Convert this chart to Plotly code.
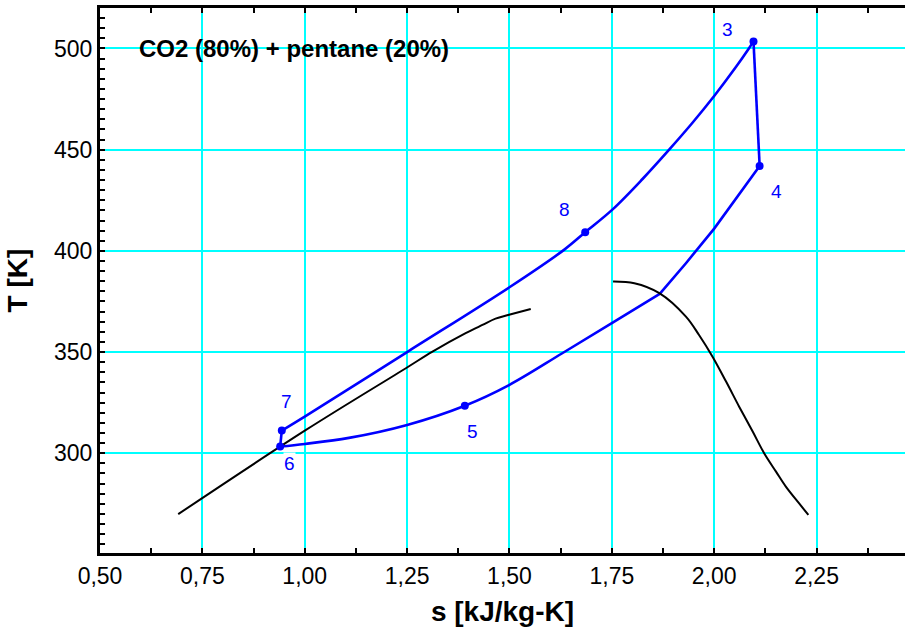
import plotly.graph_objects as go

# --- T-s diagram of a CO2/pentane cycle ---
# heating branch 7 -> 8 -> 3
heat_s = [0.944, 1.000, 1.250, 1.500, 1.634, 1.685, 1.752, 1.825, 1.890, 1.947, 2.000, 2.053, 2.083, 2.096]
heat_T = [311.2, 318.1, 350.0, 382.0, 400.6, 409.2, 420.5, 435.5, 450.0, 463.3, 476.5, 490.8, 499.5, 503.5]

# expansion 3 -> 4
exp_s = [2.096, 2.111]
exp_T = [503.5, 441.9]

# cooling 4 -> dew point
cool_hi_s = [2.111, 2.000, 1.931, 1.867]
cool_hi_T = [441.9, 411.0, 393.9, 378.7]

# condensation dew point -> 5 -> 6
cool_lo_s = [1.867, 1.752, 1.629, 1.499, 1.391, 1.250, 1.108, 1.000, 0.940]
cool_lo_T = [378.7, 364.5, 349.4, 333.7, 323.5, 314.0, 307.6, 304.6, 303.3]

# pump 6 -> 7
pump_s = [0.940, 0.944]
pump_T = [303.3, 311.2]

# saturation boundaries of the mixture
bubble_s = [0.691, 1.003, 1.247, 1.312, 1.393, 1.434, 1.466, 1.499, 1.552]
bubble_T = [269.9, 311.5, 342.0, 350.2, 359.3, 363.4, 366.5, 368.4, 371.3]
dew_s = [1.753, 1.805, 1.866, 1.931, 1.963, 1.996, 2.029, 2.061, 2.094, 2.122, 2.151, 2.175, 2.207, 2.230]
dew_T = [384.8, 384.0, 379.1, 367.5, 358.4, 347.7, 335.4, 323.0, 310.7, 300.0, 290.9, 283.5, 275.3, 269.5]

# labelled state points
state_names = ["3", "4", "5", "6", "7", "8"]
state_s = [2.096, 2.111, 1.391, 0.940, 0.944, 1.685]
state_T = [503.5, 441.9, 323.5, 303.3, 311.2, 409.2]
label_dx = [-26, 17, 8, 9, 5, -21]
label_dy = [12, -25, -26, -17, 29, 23]

x_ticks = [0.50, 0.75, 1.00, 1.25, 1.50, 1.75, 2.00, 2.25]
y_ticks = [300, 350, 400, 450, 500]

BLUE = "#0000FF"
CYAN = "#00FFFF"

fig = go.Figure()

for xs, ys, shape in [
    (heat_s, heat_T, "spline"),
    (exp_s, exp_T, "linear"),
    (cool_hi_s, cool_hi_T, "linear"),
    (cool_lo_s, cool_lo_T, "spline"),
    (pump_s, pump_T, "linear"),
]:
    fig.add_trace(go.Scatter(x=xs, y=ys, mode="lines",
                             line=dict(color=BLUE, width=2.6, shape=shape, smoothing=1.0),
                             showlegend=False, hoverinfo="skip"))

for xs, ys in [(bubble_s, bubble_T), (dew_s, dew_T)]:
    fig.add_trace(go.Scatter(x=xs, y=ys, mode="lines",
                             line=dict(color="black", width=2, shape="spline", smoothing=1.0),
                             showlegend=False, hoverinfo="skip"))

fig.add_trace(go.Scatter(x=state_s, y=state_T, mode="markers",
                         marker=dict(color=BLUE, size=8),
                         showlegend=False, hoverinfo="skip"))

for name, s, T, dx, dy in zip(state_names, state_s, state_T, label_dx, label_dy):
    fig.add_annotation(x=s, y=T, text=name, showarrow=False,
                       xshift=dx, yshift=dy, bgcolor="white", borderpad=0,
                       font=dict(family="Liberation Sans, Arial", size=19, color=BLUE))

fig.add_annotation(x=0.046, xref="paper", y=500, yref="y", xanchor="left", yanchor="middle",
                   text="<b>CO2 (80%) + pentane (20%)</b>", showarrow=False,
                   font=dict(family="Liberation Sans, Arial", size=24, color="black"))

axis_font = dict(family="Liberation Sans, Arial", size=23, color="black")
title_font = dict(family="Liberation Sans, Arial", size=28, color="black")

fig.update_xaxes(
    range=[0.5, 2.466], tickvals=x_ticks, tickformat=".2f",
    showgrid=True, gridcolor=CYAN, gridwidth=2.4,
    showline=True, linecolor="black", linewidth=3, mirror="ticks",
    ticks="inside", ticklen=5, tickcolor="black", tickwidth=1.5,
    minor=dict(dtick=0.125, tick0=0.5, ticks="inside", ticklen=5, tickcolor="black", tickwidth=1.5, showgrid=False),
    tickfont=axis_font, zeroline=False,
    title=dict(text="<b>s [kJ/kg-K]</b>", font=title_font, standoff=14),
)
fig.update_yaxes(
    range=[250.7, 520], tickvals=y_ticks,
    showgrid=True, gridcolor=CYAN, gridwidth=2.4,
    showline=True, linecolor="black", linewidth=3, mirror=False,
    ticks="inside", ticklen=5, tickcolor="black", tickwidth=1.5,
    minor=dict(dtick=5, tick0=250, ticks="inside", ticklen=5, tickcolor="black", tickwidth=1.5, showgrid=False),
    tickfont=axis_font, zeroline=False,
    title=dict(text="<b>T [K]</b>", font=title_font, standoff=19),
)

fig.update_layout(
    width=905, height=635,
    margin=dict(l=100, r=0, t=8, b=82),
    paper_bgcolor="white", plot_bgcolor="white",
    separators=",.",
    font=dict(family="Liberation Sans, Arial"),
)

fig.write_html("out.html")
